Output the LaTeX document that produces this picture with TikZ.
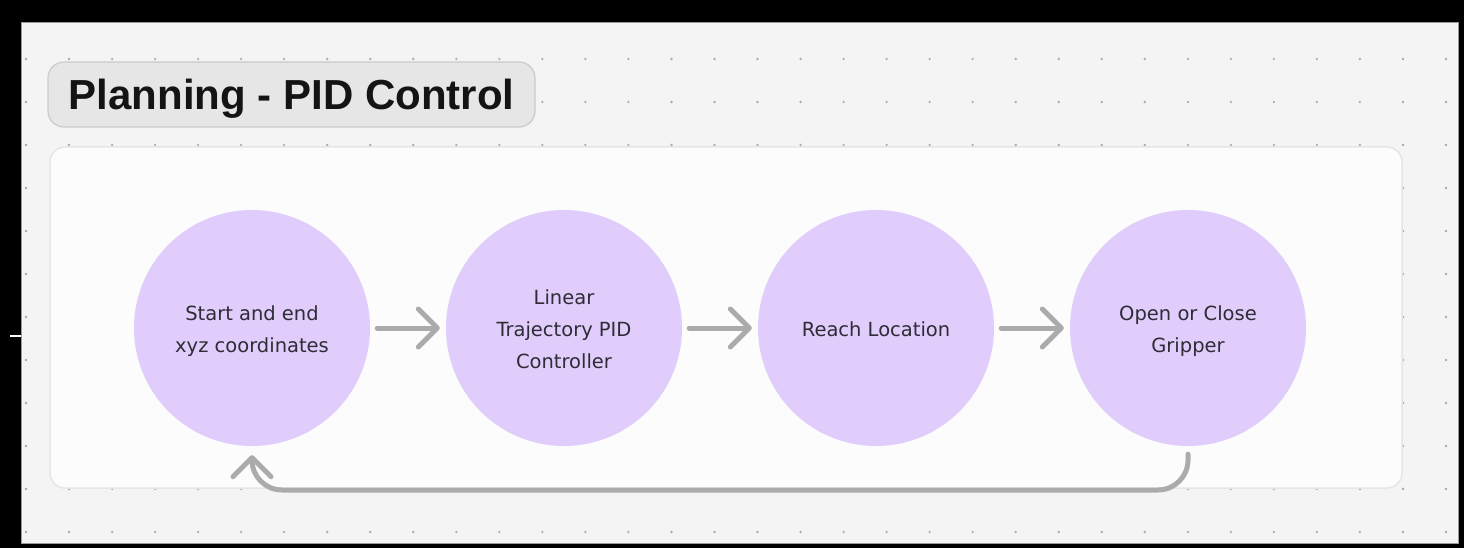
\documentclass[tikz,border=0pt]{standalone}
\usepackage{fontspec}
\setmainfont{DejaVu Sans}
\newfontfamily\titlefont{Liberation Sans}
\newfontfamily\circfont{DejaVu Sans}
\usetikzlibrary{arrows.meta}
\definecolor{canvas}{HTML}{F4F4F4}
\definecolor{edgec}{HTML}{9A9A9A}
\definecolor{dotc}{HTML}{ABABAB}
\definecolor{panelfill}{HTML}{FCFCFC}
\definecolor{paneledge}{HTML}{E6E6E6}
\definecolor{titlefill}{HTML}{E6E6E6}
\definecolor{titleedge}{HTML}{CBCBCB}
\definecolor{circfill}{HTML}{E0CDFB}
\definecolor{arrowc}{HTML}{ABABAB}
\definecolor{textc}{HTML}{2E2C36}
\tikzset{
  titlebox/.style={draw=titleedge, fill=titlefill, line width=1.2pt, rounded corners=16pt,
    minimum width=487pt, minimum height=65pt, inner sep=0pt, text depth=0pt,
    font=\titlefont\bfseries\fontsize{42}{42}\selectfont, text=black!92},
  circ/.style={circle, fill=circfill, minimum size=236pt, inner sep=0pt},
  ctext/.style={align=center, inner sep=0pt, text=textc,
    font=\circfont\fontsize{19.5}{32}\selectfont},
  arr/.style={draw=arrowc, line width=5pt, line cap=round, line join=round,
    -{Straight Barb[length=19pt, width=38pt, round]}},
}
\begin{document}
\begin{tikzpicture}[x=1pt, y=-1pt]
\useasboundingbox (0,0) rectangle (1464,548);
\fill[black] (0,0) rectangle (1464,548);
\filldraw[fill=canvas, draw=edgec, line width=0.8pt] (21,22) rectangle (1458,543);
\foreach \i in {0,...,33} {
  \foreach \j in {0,...,11} {
    \fill[dotc] ({26+43.03*\i}, {59+43*\j}) circle (1.3);
  }
}
\fill[white] (10,334.6) rectangle (21,336.6);
\filldraw[fill=panelfill, draw=paneledge, line width=1.5pt, rounded corners=15pt] (50,147) rectangle (1402,488);
\node[titlebox] (title) at (291.5,94.5) {Planning - PID Control};
\node[circ] (c1) at (252,328) {};
\node[circ] (c2) at (564,328) {};
\node[circ] (c3) at (876,328) {};
\node[circ] (c4) at (1188,328) {};
\node[ctext] (t1) at ([yshift=-3pt]c1.center) {Start and end\\xyz coordinates};
\node[ctext] (t2) at ([yshift=-1pt]c2.center) {Linear\\Trajectory PID\\Controller};
\node[ctext] (t3) at ([yshift=-1pt]c3.center) {Reach Location};
\node[ctext] (t4) at ([yshift=-3pt]c4.center) {Open or Close\\Gripper};
\draw[arr, shorten <=7pt, shorten >=6pt] (c1) -- (c2);
\draw[arr, shorten <=7pt, shorten >=6pt] (c2) -- (c3);
\draw[arr, shorten <=7pt, shorten >=6pt] (c3) -- (c4);
\coordinate (fb) at (700,490);
\draw[arr, rounded corners=30pt] ([yshift=-8pt]c4.south) |- (fb) -| ([yshift=-9pt]c1.south);
\end{tikzpicture}
\end{document}
